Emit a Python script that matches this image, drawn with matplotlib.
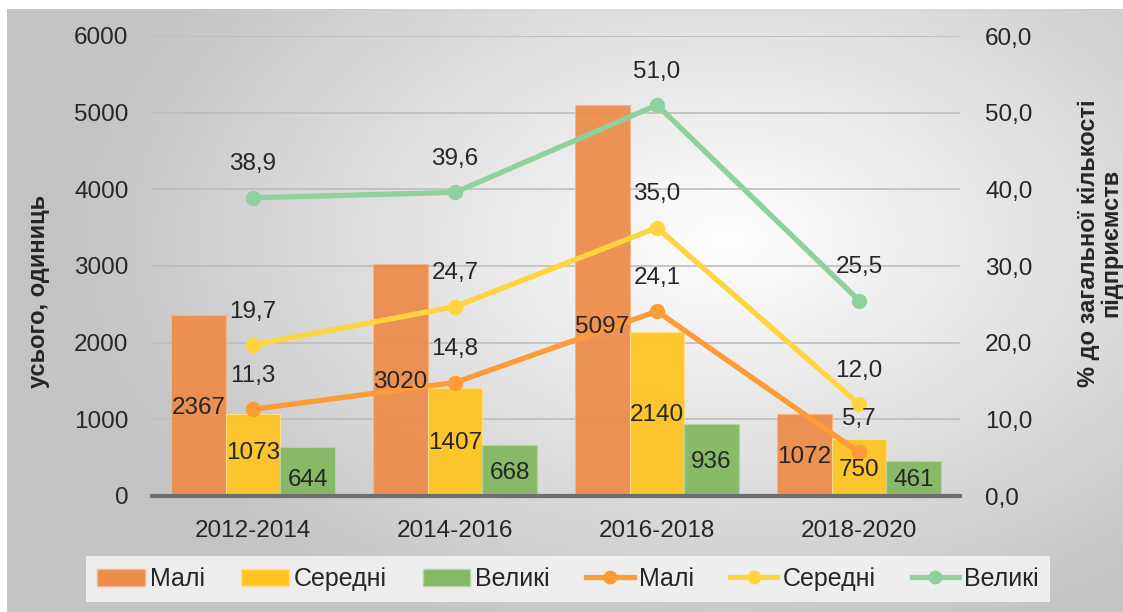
import numpy as np
import matplotlib
matplotlib.use("Agg")
import matplotlib.pyplot as plt
from matplotlib.patches import Patch
from matplotlib.lines import Line2D

# дані
periods = ["2012-2014", "2014-2016", "2016-2018", "2018-2020"]
small_cnt = [2367, 3020, 5097, 1072]
medium_cnt = [1073, 1407, 2140, 750]
large_cnt = [644, 668, 936, 461]
small_pct = [11.3, 14.8, 24.1, 5.7]
medium_pct = [19.7, 24.7, 35.0, 12.0]
large_pct = [38.9, 39.6, 51.0, 25.5]
series_names = ["Малі", "Середні", "Великі"]

# положення підписів стовпців (в одиницях осі)
small_lab_y = [1150, 1490, 2210, 510]
medium_lab_y = [560, 690, 1055, 340]
large_lab_y = [210, 300, 445, 210]

plt.rcParams["font.family"] = ["Liberation Sans", "DejaVu Sans"]
txt = "#262626"
fs = 17.5

bar_cols = ["#ED8D4C", "#FFC423", "#84B862"]
line_cols = ["#FF9A35", "#FFD43F", "#8FD19C"]

fig = plt.figure(figsize=(11.23, 6.12), dpi=100)
fig.patch.set_facecolor("white")

# фон з радіальним градієнтом
bg = fig.add_axes([7 / 1123, 0, 1 - 7 / 1123, 1 - 9 / 612], zorder=-5)
H, W = 603, 1116
yy, xx = np.mgrid[0:H, 0:W]
d = np.sqrt(((xx - 720) / 650.0) ** 2 + ((yy - 230) / 420.0) ** 2)
d = np.clip(d, 0, 1)
g = 1.0 - d * (1.0 - 0.77)
img = np.dstack([g, g, g])
bg.imshow(img, aspect="auto", extent=[0, 1, 0, 1])
bg.set_axis_off()

ax = fig.add_axes([152 / 1123, 1 - 496 / 612, 808 / 1123, 460 / 612])
ax.patch.set_alpha(0)
x = np.arange(len(periods))
w = 0.27

ax.bar(x - w, small_cnt, w, color=bar_cols[0], edgecolor="#F5B58A", linewidth=0.8, zorder=2, alpha=0.95)
ax.bar(x, medium_cnt, w, color=bar_cols[1], edgecolor="#FFE08A", linewidth=0.8, zorder=2, alpha=0.95)
ax.bar(x + w, large_cnt, w, color=bar_cols[2], edgecolor="#B5D6A0", linewidth=0.8, zorder=2, alpha=0.95)

ax.set_xlim(-0.5, 3.5)
ax.set_ylim(0, 6000)
ax.set_yticks(np.arange(0, 6001, 1000))
ax.set_xticks(x)
ax.set_xticklabels(periods)
ax.yaxis.grid(True, color="#BDBDBD", linewidth=1.2, zorder=0)
ax.set_axisbelow(True)
for s in ["top", "right", "left"]:
    ax.spines[s].set_visible(False)
ax.spines["bottom"].set_color("#6E6E6E")
ax.spines["bottom"].set_linewidth(3)
ax.tick_params(axis="both", length=0, labelsize=fs, colors=txt)
ax.tick_params(axis="y", pad=17)
ax.tick_params(axis="x", pad=17)
ax.set_ylabel("усього, одиниць", fontsize=17, fontweight="bold", color=txt)
ax.yaxis.set_label_coords(-0.126, 0.445)

ax2 = ax.twinx()
ax2.set_ylim(0, 60)
ax2.set_yticks(np.arange(0, 61, 10))
ax2.set_yticklabels([f"{t:.1f}".replace(".", ",") for t in np.arange(0, 61, 10)])
for s in ["top", "right", "left", "bottom"]:
    ax2.spines[s].set_visible(False)
ax2.tick_params(axis="y", length=0, labelsize=fs, colors=txt, pad=18)
ax2.set_ylabel("% до загальної кількості\nпідприємств", fontsize=17, fontweight="bold", color=txt, linespacing=0.95)
ax2.yaxis.set_label_coords(1.145, 0.55)

for vals, col in zip([small_pct, medium_pct, large_pct], line_cols):
    ax2.plot(x, vals, color=col, linewidth=3.8, marker="o", markersize=10, zorder=4)
    for i, v in enumerate(vals):
        ax2.annotate(f"{v:.1f}".replace(".", ","), (x[i], v), xytext=(0, 24), textcoords="offset points",
                     ha="center", va="center", fontsize=fs, color=txt, zorder=6)

# підписи стовпців поверх ліній
for offs, vals, ly in [(-w, small_cnt, small_lab_y), (0, medium_cnt, medium_lab_y), (w, large_cnt, large_lab_y)]:
    for i, v in enumerate(vals):
        ax2.text(x[i] + offs, ly[i], str(v), ha="center", va="center", fontsize=fs, color=txt, zorder=6,
                 transform=ax.transData)

handles = [Patch(facecolor=bar_cols[0], edgecolor="#F5B58A"),
           Patch(facecolor=bar_cols[1], edgecolor="#FFE08A"),
           Patch(facecolor=bar_cols[2], edgecolor="#B5D6A0")]
handles += [Line2D([0], [0], color=c, linewidth=3.8, marker="o", markersize=9) for c in line_cols]
leg = fig.legend(handles, series_names + series_names, loc="center", bbox_to_anchor=(568 / 1123, 1 - 579 / 612),
                 ncol=6, frameon=True, fancybox=False, fontsize=18, handlelength=1.9, handletextpad=0.2,
                 columnspacing=1.45, borderpad=0.45, borderaxespad=0)
leg.get_frame().set_facecolor("#F2F2F2")
leg.get_frame().set_edgecolor("none")
leg.get_frame().set_alpha(0.9)
for t in leg.get_texts():
    t.set_color(txt)

fig.savefig("out.png", dpi=100)
